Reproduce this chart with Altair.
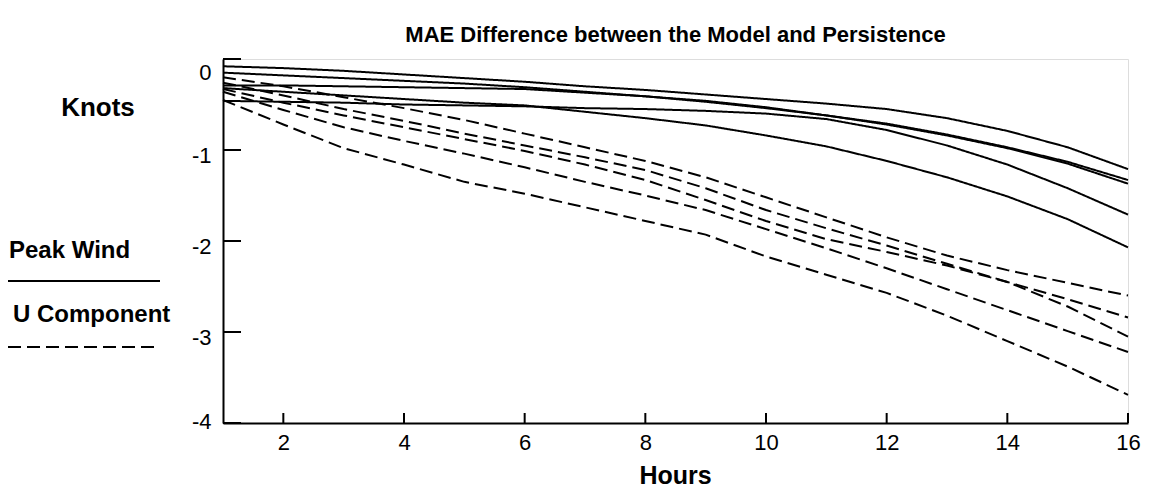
import altair as alt
import pandas as pd

hours = list(range(1, 17))

# Peak Wind (solid lines)
peak_a = [-0.08, -0.10, -0.13, -0.17, -0.21, -0.25, -0.30, -0.34, -0.39, -0.44, -0.49, -0.55, -0.65, -0.79, -0.97, -1.21]
peak_b = [-0.15, -0.18, -0.21, -0.24, -0.27, -0.31, -0.36, -0.41, -0.46, -0.53, -0.62, -0.72, -0.84, -0.98, -1.15, -1.37]
peak_c = [-0.29, -0.29, -0.30, -0.31, -0.32, -0.33, -0.37, -0.41, -0.47, -0.54, -0.62, -0.71, -0.83, -0.97, -1.13, -1.33]
peak_d = [-0.46, -0.47, -0.48, -0.50, -0.51, -0.52, -0.54, -0.55, -0.57, -0.60, -0.66, -0.78, -0.95, -1.16, -1.42, -1.71]
peak_e = [-0.32, -0.36, -0.40, -0.44, -0.48, -0.51, -0.58, -0.65, -0.73, -0.84, -0.96, -1.12, -1.30, -1.51, -1.76, -2.07]

# U Component (dashed lines)
u_a = [-0.20, -0.30, -0.42, -0.54, -0.67, -0.82, -0.97, -1.12, -1.30, -1.52, -1.74, -1.96, -2.16, -2.32, -2.46, -2.60]
u_b = [-0.26, -0.40, -0.55, -0.68, -0.82, -0.95, -1.08, -1.22, -1.42, -1.66, -1.86, -2.05, -2.25, -2.45, -2.72, -3.05]
u_c = [-0.33, -0.48, -0.62, -0.75, -0.88, -1.01, -1.16, -1.33, -1.55, -1.78, -1.98, -2.12, -2.27, -2.45, -2.64, -2.84]
u_d = [-0.36, -0.56, -0.75, -0.90, -1.04, -1.19, -1.35, -1.50, -1.66, -1.87, -2.08, -2.30, -2.53, -2.76, -2.99, -3.22]
u_e = [-0.45, -0.72, -0.98, -1.16, -1.35, -1.48, -1.63, -1.78, -1.93, -2.17, -2.37, -2.57, -2.82, -3.10, -3.38, -3.69]

x_ticks = [2, 4, 6, 8, 10, 12, 14, 16]
y_ticks = [0, -1, -2, -3, -4]

title_text = "MAE Difference between the Model and Persistence"
x_title = "Hours"
y_title = "Knots"
legend_solid = "Peak Wind"
legend_dashed = "U Component"

series = {
    ("P1", "Peak Wind"): peak_a, ("P2", "Peak Wind"): peak_b, ("P3", "Peak Wind"): peak_c,
    ("P4", "Peak Wind"): peak_d, ("P5", "Peak Wind"): peak_e,
    ("U1", "U Component"): u_a, ("U2", "U Component"): u_b, ("U3", "U Component"): u_c,
    ("U4", "U Component"): u_d, ("U5", "U Component"): u_e,
}
rows = []
for (name, kind), vals in series.items():
    for h, v in zip(hours, vals):
        rows.append({"hour": h, "value": v, "series": name, "kind": kind})
df = pd.DataFrame(rows)

W, H = 905, 364
FONT = "Liberation Sans"

xscale = alt.Scale(domain=[1, 16], nice=False, zero=False)
yscale = alt.Scale(domain=[-4, 0], nice=False, zero=False)

y_label_offset = {
    "condition": [
        {"test": "datum.value == 0", "value": 13},
        {"test": "datum.value == -4", "value": -2},
    ],
    "value": 5,
}

lines = alt.Chart(df).mark_line(strokeWidth=2, color="black").encode(
    x=alt.X("hour:Q", scale=xscale, axis=alt.Axis(
        values=x_ticks, title=None, tickSize=0, labelPadding=9, labelFontSize=22,
        labelFont=FONT, labelColor="black", domainColor="black", domainWidth=2,
        grid=False, labelFlush=False, labelExpr="'' + datum.value")),
    y=alt.Y("value:Q", scale=yscale, axis=alt.Axis(
        values=y_ticks, title=None, tickSize=0, labelPadding=12, labelFontSize=22,
        labelFont=FONT, labelColor="black", domainColor="black", domainWidth=2,
        grid=False, labelFlush=False,
        labelExpr="datum.value == 0 ? '0' : '-' + abs(datum.value)",
        labelOffset=y_label_offset)),
    detail="series:N",
    strokeDash=alt.StrokeDash("kind:N", scale=alt.Scale(
        domain=["Peak Wind", "U Component"], range=[[1, 0], [13, 6]]), legend=None),
)

ytick_df = pd.DataFrame({"v": y_ticks})
xtick_df = pd.DataFrame({"h": x_ticks})
yticks = alt.Chart(ytick_df).mark_rule(color="black", strokeWidth=2).encode(
    y=alt.Y("v:Q", scale=yscale), x=alt.value(0), x2=alt.value(18))
xticks = alt.Chart(xtick_df).mark_rule(color="black", strokeWidth=2).encode(
    x=alt.X("h:Q", scale=xscale), y=alt.value(H), y2=alt.value(H - 10))

def label(text, x, y, size, align="center"):
    return alt.Chart(pd.DataFrame({"t": [text]})).mark_text(
        font=FONT, fontSize=size, fontWeight="bold", color="black",
        align=align, baseline="middle").encode(
        text="t:N", x=alt.value(x), y=alt.value(y))

title = label(title_text, W / 2, -24, 22)
hours_lbl = label(x_title, W / 2, 417, 25)
knots_lbl = label(y_title, -125, 49, 26)
peak_lbl = label(legend_solid, -214, 192, 24, align="left")
u_lbl = label(legend_dashed, -210, 256, 24, align="left")

leg_solid = alt.Chart(pd.DataFrame({"k": [legend_solid]})).mark_rule(
    color="black", strokeWidth=2).encode(x=alt.value(-215), x2=alt.value(-63), y=alt.value(222))
leg_dash = alt.Chart(pd.DataFrame({"k": [legend_dashed]})).mark_rule(
    color="black", strokeWidth=2, strokeDash=[13, 6]).encode(
    x=alt.value(-215), x2=alt.value(-63), y=alt.value(288))

chart = alt.layer(
    lines, yticks, xticks, title, hours_lbl, knots_lbl, peak_lbl, u_lbl, leg_solid, leg_dash
).properties(
    width=W, height=H,
    autosize=alt.AutoSizeParams(type="none"),
    padding={"left": 215, "top": 51, "right": 20, "bottom": 66},
).configure_view(stroke="black", strokeWidth=2).configure(background="white")

chart.save("out.html", embed_options={"renderer": "svg", "actions": False})
